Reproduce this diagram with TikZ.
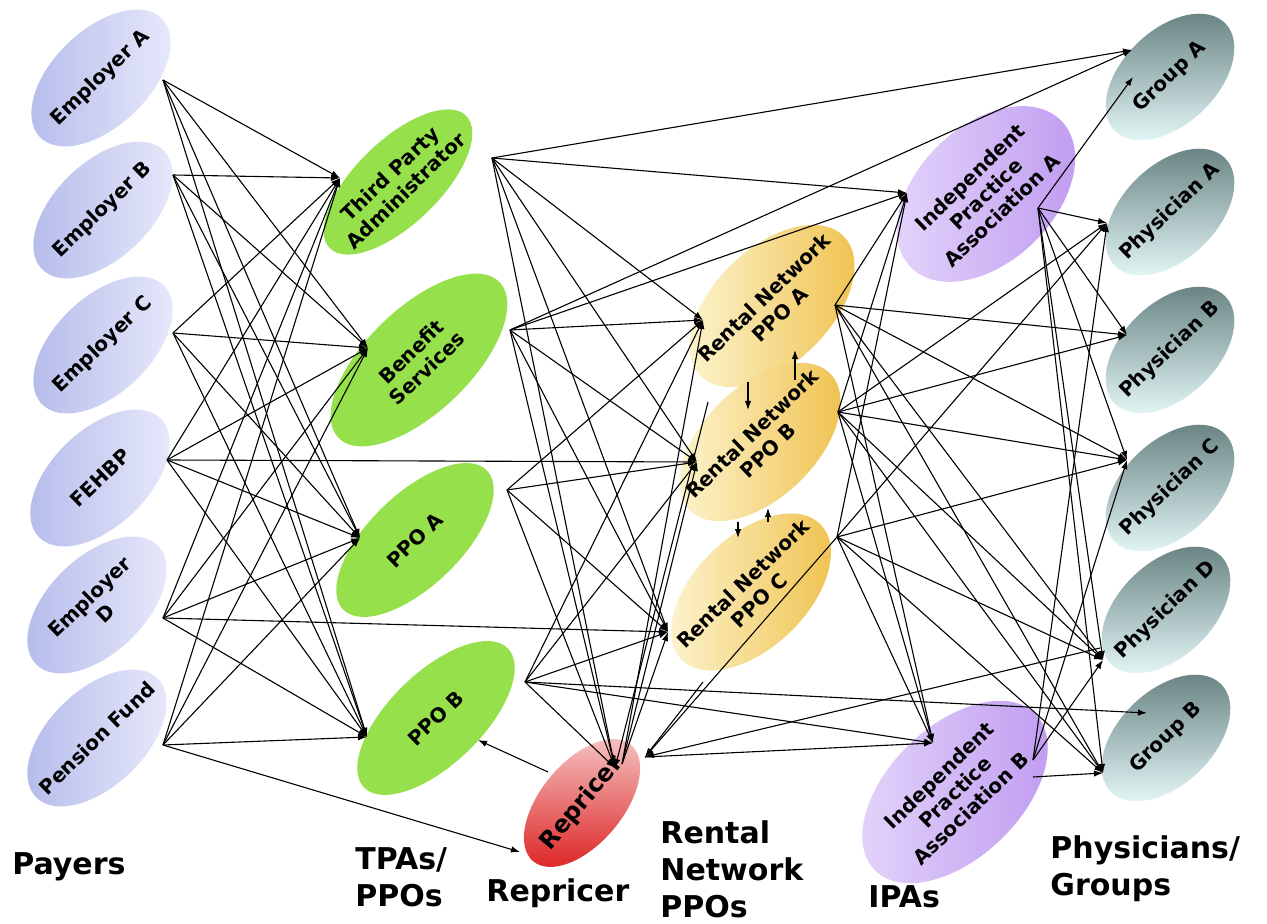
\documentclass[tikz,border=0pt]{standalone}
\usepackage{fontspec}
\setmainfont{DejaVu Sans}
\usetikzlibrary{shapes.geometric,arrows.meta}
\definecolor{payL}{HTML}{B3BAEA}
\definecolor{payR}{HTML}{E9EBFB}
\definecolor{tpaG}{HTML}{96E04C}
\definecolor{rnL}{HTML}{FDF6D4}
\definecolor{rnR}{HTML}{EFC04A}
\definecolor{repT}{HTML}{F7CACA}
\definecolor{repB}{HTML}{DE2E2E}
\definecolor{ipaL}{HTML}{E4D6FB}
\definecolor{ipaR}{HTML}{BF9AF0}
\definecolor{phyD}{HTML}{627D7D}
\definecolor{phyL}{HTML}{E2F5F5}
\begin{document}
\begin{tikzpicture}[x=0.5pt,y=-0.5pt,
  blob/.style={ellipse, draw=none, inner xsep=-15pt, inner ysep=-6pt, rotate=44,
    font=\bfseries\fontsize{10}{11.5}\selectfont, align=center},
  payer/.style={blob, minimum width=85pt, minimum height=48pt, left color=payL, right color=payR},
  tpa/.style={blob, fill=tpaG},
  rn/.style={blob, left color=rnL, right color=rnR},
  ipa/.style={blob, left color=ipaL, right color=ipaR},
  phys/.style={blob, minimum width=77pt, minimum height=47pt, top color=phyD, bottom color=phyL},
  conn/.style={-{Latex[length=4.5pt,width=3.2pt]}, line width=0.55pt},
  captxt/.style={font=\bfseries\fontsize{15}{18.5}\selectfont, align=left, anchor=west, inner sep=0pt}
]
\useasboundingbox (0,0) rectangle (1267,924);
\fill[white] (0,0) rectangle (1267,924);

% ---------- nodes ----------
\node[payer] (eA) at (101,78) {Employer A};
\node[payer] (eB) at (103,210) {Employer B};
\node[payer] (eC) at (103,345) {Employer C};
\node[payer] (fe) at (100,478) {FEHBP};
\node[payer] (eD) at (97,605) {Employer\\D};
\node[payer] (pf) at (97,738) {Pension Fund};

\node[tpa, minimum width=95pt, minimum height=42pt] (tT) at (398,182) {Third Party\\Administrator};
\node[tpa, minimum width=112pt, minimum height=52pt] (tB) at (419,360) {Benefit\\Services};
\node[tpa, minimum width=100pt, minimum height=46pt] (tPA) at (415,540) {PPO A};
\node[tpa, minimum width=100pt, minimum height=46pt] (tPB) at (436,718) {PPO B};

\node[rn, minimum width=100pt, minimum height=58pt] (rA) at (772,306) {Rental Network\\PPO A};
\node[rn, minimum width=98pt, minimum height=56pt] (rB) at (760,442) {Rental Network\\PPO B};
\node[rn, minimum width=97pt, minimum height=56pt] (rC) at (751,592) {Rental Network\\PPO C};

\node[blob, rotate=6, minimum width=76pt, minimum height=41pt, top color=repT, bottom color=repB,
  font=\bfseries\fontsize{12}{14}\selectfont] (rp) at (582,803) {Repricer};

\node[ipa, minimum width=105pt, minimum height=68pt] (iA) at (986,194) {Independent\\Practice\\Association A};
\node[ipa, minimum width=112pt, minimum height=66pt] (iB) at (955,792) {Independent\\Practice\\Association B};

\node[phys] (gA) at (1170,77) {Group A};
\node[phys] (pA) at (1170,212) {Physician A};
\node[phys] (pB) at (1170,350) {Physician B};
\node[phys] (pC) at (1170,488) {Physician C};
\node[phys] (pD) at (1166,610) {Physician D};
\node[phys] (gB) at (1166,738) {Group B};

% ---------- captions ----------
\node[captxt] (c1) at (12,867) {Payers};
\node[captxt] (c2) at (355,877) {TPAs/\\PPOs};
\node[captxt] (c3) at (486,893) {Repricer};
\node[captxt] (c4) at (660,869) {Rental\\Network\\PPOs};
\node[captxt] (c5) at (868,897) {IPAs};
\node[captxt] (c6) at (1050,869) {Physicians/\\Groups};

% ---------- ports ----------
\coordinate (eA-o) at (163,80);
\coordinate (eB-o) at (173,175);
\coordinate (eC-o) at (173,333);
\coordinate (fe-o) at (167,460);
\coordinate (eD-o) at (163,618);
\coordinate (pf-o) at (163,745);
\coordinate (tT-i) at (340,178);
\coordinate (tB-i) at (368,348);
\coordinate (tPA-i) at (360,538);
\coordinate (tPB-i) at (367,737);
\coordinate (tPB-r) at (478,740);
\coordinate (tT-o) at (492,158);
\coordinate (tB-o) at (510,330);
\coordinate (tPA-o) at (507,490);
\coordinate (tPB-o) at (525,682);
\coordinate (rA-i) at (703,320);
\coordinate (rB-i) at (697,462);
\coordinate (rC-i) at (668,632);
\coordinate (rB-b) at (708,402);
\coordinate (rC-b) at (703,682);
\coordinate (rA-o) at (835,305);
\coordinate (rB-o) at (838,412);
\coordinate (rC-o) at (837,537);
\coordinate (rp-t) at (615,768);
\coordinate (rp-u) at (622,764);
\coordinate (rp-r) at (645,757);
\coordinate (rp-l) at (520,852);
\coordinate (rp-o) at (548,772);
\coordinate (iA-i) at (907,193);
\coordinate (iA-o) at (1038,208);
\coordinate (iB-i) at (933,743);
\coordinate (iB-o) at (1033,760);
\coordinate (iB-o2) at (1033,777);
\coordinate (gA-i) at (1132,50);
\coordinate (gA-i2) at (1133,77);
\coordinate (pA-i) at (1107,223);
\coordinate (pB-i) at (1127,335);
\coordinate (pC-i) at (1127,460);
\coordinate (pD-i) at (1103,660);
\coordinate (pD-l) at (1100,648);
\coordinate (gB-i) at (1103,773);
\coordinate (gB-i2) at (1147,713);
\coordinate (ab1) at (748,382);
\coordinate (ab2) at (748,410);
\coordinate (ab3) at (795,380);
\coordinate (ab4) at (795,350);
\coordinate (bc1) at (738,522);
\coordinate (bc2) at (738,538);
\coordinate (bc3) at (768,522);
\coordinate (bc4) at (768,508);

% ---------- connectors ----------
\foreach \s in {eA,eB,eC,fe,eD,pf}{\foreach \t in {tT,tB,tPA,tPB}{\draw[conn] (\s-o) -- (\t-i);}}
\draw[conn] (fe-o) -- (rB-i);
\draw[conn] (eD-o) -- (rC-i);
\draw[conn] (pf-o) -- (rp-l);

\foreach \t in {gA-i,iA-i,rA-i,rB-i,rC-i,rp-t}{\draw[conn] (tT-o) -- (\t);}
\foreach \t in {gA-i,iA-i,rA-i,rB-i,rC-i,rp-t}{\draw[conn] (tB-o) -- (\t);}
\foreach \t in {rA-i,rB-i,rC-i,rp-t}{\draw[conn] (tPA-o) -- (\t);}
\foreach \t in {rA-i,rB-i,rC-i,rp-t,iB-i,gB-i2}{\draw[conn] (tPB-o) -- (\t);}

\foreach \t in {rA-i,rB-i,rC-i}{\draw[conn] (rp-u) -- (\t);}
\draw[conn] (rB-b) -- (rp-t);
\draw[conn] (rC-b) -- (rp-r);
\draw[conn] (rC-o) -- (rp-r);
\draw[conn] (pD-l) -- (rp-r);
\draw[conn] (rp-r) -- (iB-i);
\draw[conn] (rp-o) -- (tPB-r);

\draw[conn] (ab1) -- (ab2);
\draw[conn] (ab3) -- (ab4);
\draw[conn] (bc1) -- (bc2);
\draw[conn] (bc3) -- (bc4);

\foreach \t in {iA-i,pB-i,pC-i,pD-i,gB-i,iB-i}{\draw[conn] (rA-o) -- (\t);}
\foreach \t in {iA-i,pA-i,pB-i,pC-i,pD-i,gB-i,iB-i}{\draw[conn] (rB-o) -- (\t);}
\foreach \t in {iA-i,pA-i,pC-i,pD-i,gB-i,iB-i}{\draw[conn] (rC-o) -- (\t);}
\foreach \t in {gA-i2,pA-i,pB-i,pC-i,pD-i,gB-i}{\draw[conn] (iA-o) -- (\t);}
\foreach \t in {pA-i,pC-i,pD-i}{\draw[conn] (iB-o) -- (\t);}
\draw[conn] (iB-o2) -- (gB-i);
\end{tikzpicture}
\end{document}
